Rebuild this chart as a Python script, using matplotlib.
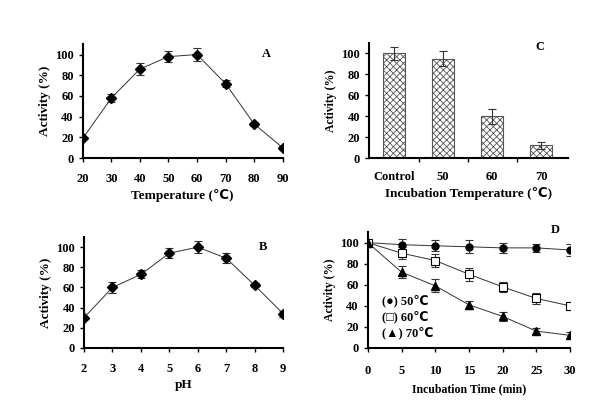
import matplotlib
matplotlib.use('Agg')
import matplotlib.pyplot as plt
import numpy as np

plt.rcParams['font.family'] = ['Liberation Serif', 'DejaVu Sans']
plt.rcParams['font.weight'] = 'bold'
plt.rcParams['hatch.color'] = '#555555'
plt.rcParams['hatch.linewidth'] = 0.6

# A: temperature
temp = [20, 30, 40, 50, 60, 70, 80, 90]
temp_act = [19, 58, 86, 98, 100, 72, 33, 10]
temp_err = [1, 4, 6, 5, 6, 3, 2, 2]

# B: pH
ph = [2, 3, 4, 5, 6, 7, 8, 9]
ph_act = [30, 60, 73, 94, 100, 89, 62, 34]
ph_err = [1, 5, 4, 5, 6, 5, 2, 3]

# C: incubation temperature
inc_labels = ['Control', '50', '60', '70']
inc_act = [100, 95, 40, 12]
inc_err = [6, 7, 7, 3]

# D: incubation time
time = [0, 5, 10, 15, 20, 25, 30]
act50 = [100, 98, 97, 96, 95, 95, 93]
err50 = [0, 5, 5, 6, 5, 4, 6]
act60 = [100, 90, 83, 70, 58, 47, 40]
err60 = [0, 6, 6, 6, 5, 5, 4]
act70 = [100, 72, 59, 41, 30, 16, 12]
err70 = [0, 6, 6, 4, 4, 3, 3]

fig = plt.figure(figsize=(6, 4.17), dpi=100)

def style(ax):
    ax.spines['top'].set_visible(False)
    ax.spines['right'].set_visible(False)
    ax.spines['left'].set_linewidth(1.5)
    ax.spines['bottom'].set_linewidth(1.5)
    ax.tick_params(direction='out', length=3, width=1, labelsize=9)
    ax.set_ylim(0, 110)
    ax.set_yticks([0, 20, 40, 60, 80, 100])
    for lab in ax.get_xticklabels() + ax.get_yticklabels():
        lab.set_fontweight('bold')

lw = 0.7
ek = dict(ecolor='#333333', elinewidth=0.8, capsize=3, capthick=0.8)

# A
axA = fig.add_axes([0.138, 0.621, 0.333, 0.273])
axA.errorbar(temp, temp_act, yerr=temp_err, color='#333333', lw=lw, marker='D',
             ms=5.5, mfc='black', mec='black', **ek)
axA.set_xlim(20, 90)
axA.set_xticks(temp)
style(axA)
axA.tick_params(axis='x', pad=8)
axA.set_xlabel('Temperature (\u2103)', fontsize=9.5, fontweight='bold', labelpad=3)
axA.set_ylabel('Activity (%)', fontsize=9.5, fontweight='bold', labelpad=3)
axA.text(0.92, 0.91, 'A', transform=axA.transAxes, fontsize=9, fontweight='bold',
         ha='center', va='center')

# C
axC = fig.add_axes([0.615, 0.621, 0.332, 0.276])
x = np.arange(len(inc_labels))
axC.bar(x, inc_act, width=0.45, color='white', edgecolor='#555555', lw=0.8,
        hatch='xxxxx', yerr=inc_err, error_kw=ek)
axC.set_xlim(-0.51, 3.55)
axC.set_xticks(x)
axC.set_xticklabels(inc_labels)
axC.set_xticks([0.5, 1.5, 2.5], minor=True)
style(axC)
axC.tick_params(axis='x', which='major', length=0, pad=9)
axC.tick_params(axis='x', which='minor', direction='out', length=3, width=1)
axC.set_xlabel('Incubation Temperature (\u2103)', fontsize=9.5, fontweight='bold', labelpad=3)
axC.set_ylabel('Activity (%)', fontsize=8.5, fontweight='bold', labelpad=3)
axC.text(0.86, 0.965, 'C', transform=axC.transAxes, fontsize=9, fontweight='bold',
         ha='center', va='center')

# B
axB = fig.add_axes([0.14, 0.1655, 0.332, 0.266])
axB.errorbar(ph, ph_act, yerr=ph_err, color='#333333', lw=lw, marker='D',
             ms=5.5, mfc='black', mec='black', **ek)
axB.set_xlim(2, 9)
axB.set_xticks(ph)
style(axB)
axB.tick_params(axis='x', pad=8)
axB.set_xlabel('pH', fontsize=9.5, fontweight='bold', labelpad=3)
axB.set_ylabel('Activity (%)', fontsize=9.5, fontweight='bold', labelpad=3)
axB.text(0.90, 0.91, 'B', transform=axB.transAxes, fontsize=9, fontweight='bold',
         ha='center', va='center')

# D
axD = fig.add_axes([0.613, 0.1655, 0.337, 0.278])
axD.errorbar(time, act50, yerr=err50, color='#333333', lw=lw, marker='o',
             ms=5, mfc='black', mec='black', **ek)
axD.errorbar(time, act60, yerr=err60, color='#333333', lw=lw, marker='s',
             ms=5.5, mfc='white', mec='black', mew=0.8, **ek)
axD.errorbar(time, act70, yerr=err70, color='#333333', lw=lw, marker='^',
             ms=5.5, mfc='black', mec='black', **ek)
axD.set_xlim(0, 30)
axD.set_xticks(time)
style(axD)
axD.tick_params(axis='x', pad=9)
axD.set_xlabel('Incubation Time (min)', fontsize=8.5, fontweight='bold', labelpad=5)
axD.set_ylabel('Activity (%)', fontsize=8.5, fontweight='bold', labelpad=3)
axD.text(0.925, 1.02, 'D', transform=axD.transAxes, fontsize=9, fontweight='bold',
         ha='center', va='center')
leg_labels = ['(\u25cf) 50\u2103', '(\u25a1) 60\u2103', '(\u25b2) 70\u2103']
leg_y = [0.41, 0.27, 0.13]
for s, yy in zip(leg_labels, leg_y):
    axD.text(0.07, yy, s, transform=axD.transAxes, fontsize=9,
             fontweight='bold', va='center')

fig.savefig('out.png', dpi=100)
